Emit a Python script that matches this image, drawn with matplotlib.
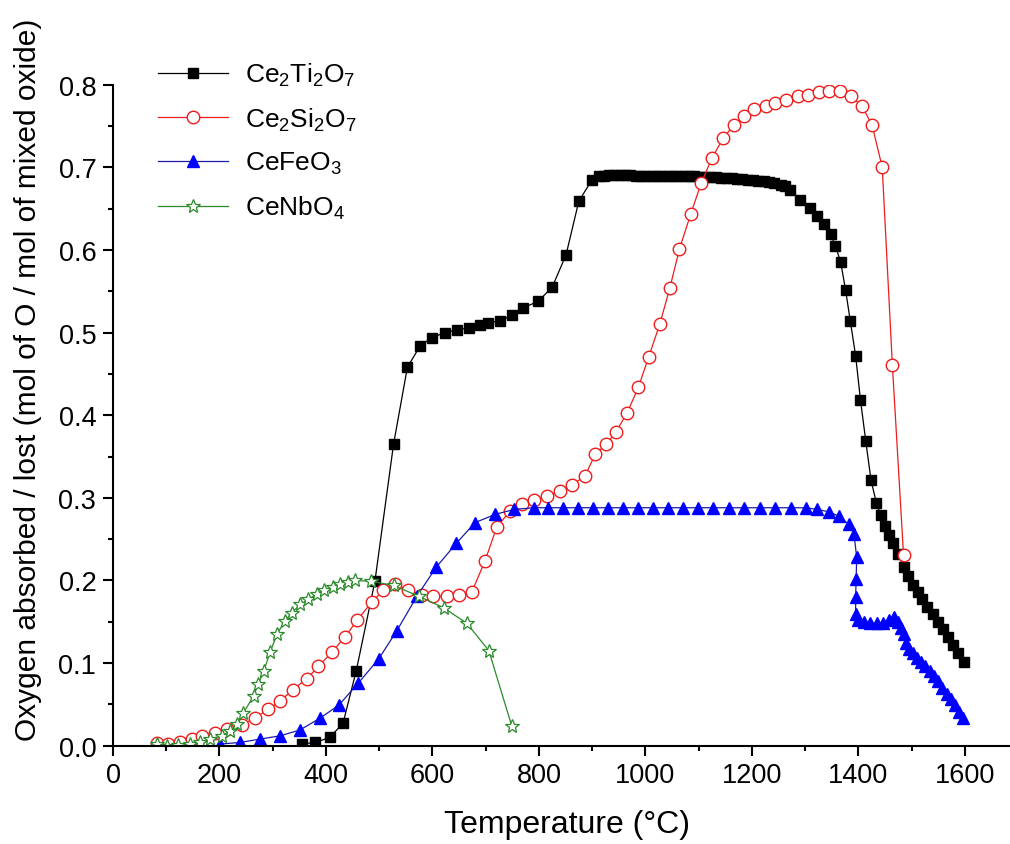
import numpy as np
import matplotlib
matplotlib.use('Agg')
import matplotlib.pyplot as plt
from matplotlib.ticker import MultipleLocator

plt.rcParams['font.family'] = ['Liberation Sans', 'DejaVu Sans']
plt.rcParams['mathtext.fontset'] = 'custom'
plt.rcParams['mathtext.rm'] = 'Liberation Sans'

# Ce2Ti2O7
ti_T = [355, 380, 407, 432, 457, 492, 527, 553, 577, 599, 624, 646, 668, 690, 705,
        727, 749, 771, 799, 825, 851, 875, 900, 912, 922, 932, 942, 952, 962, 972,
        982, 992, 1002, 1012, 1022, 1032, 1042, 1052, 1062, 1072, 1082, 1092, 1102,
        1112, 1122, 1132, 1142, 1152, 1162, 1172, 1182, 1192, 1202, 1212, 1222, 1232,
        1242, 1254, 1263, 1272, 1291, 1310, 1323, 1335, 1348, 1357, 1367, 1376, 1385,
        1395, 1404, 1414, 1424, 1434, 1442, 1450, 1458, 1466, 1475, 1485, 1494, 1503,
        1512, 1520, 1530, 1540, 1550, 1559, 1568, 1578, 1588, 1598]
ti_v = [0.002, 0.004, 0.010, 0.027, 0.091, 0.199, 0.365, 0.458, 0.484, 0.494, 0.500,
        0.503, 0.506, 0.509, 0.512, 0.514, 0.521, 0.530, 0.538, 0.555, 0.594, 0.659,
        0.685, 0.689, 0.690, 0.691, 0.691, 0.691, 0.691, 0.691, 0.690, 0.690, 0.690,
        0.690, 0.690, 0.690, 0.690, 0.689, 0.689, 0.689, 0.689, 0.689, 0.688, 0.688,
        0.688, 0.688, 0.687, 0.687, 0.687, 0.686, 0.686, 0.685, 0.685, 0.684, 0.683,
        0.682, 0.681, 0.679, 0.677, 0.673, 0.661, 0.651, 0.641, 0.631, 0.619, 0.605,
        0.585, 0.552, 0.514, 0.472, 0.419, 0.369, 0.321, 0.294, 0.279, 0.266, 0.255,
        0.245, 0.232, 0.216, 0.205, 0.195, 0.186, 0.178, 0.168, 0.159, 0.150, 0.141,
        0.132, 0.122, 0.112, 0.101]

# Ce2Si2O7
si_T = [82, 104, 126, 148, 167, 192, 214, 242, 267, 292, 314, 338, 364, 386, 411,
        436, 459, 486, 508, 530, 555, 580, 602, 627, 649, 674, 699, 721, 746, 768,
        790, 815, 840, 862, 887, 906, 927, 945, 966, 987, 1006, 1027, 1046, 1064,
        1085, 1105, 1125, 1146, 1166, 1185, 1205, 1226, 1244, 1265, 1286, 1305,
        1326, 1345, 1365, 1387, 1407, 1426, 1445, 1464, 1485]
si_v = [0.003, 0.002, 0.004, 0.008, 0.012, 0.015, 0.020, 0.025, 0.034, 0.044, 0.054,
        0.068, 0.081, 0.096, 0.113, 0.132, 0.152, 0.174, 0.188, 0.196, 0.188, 0.183,
        0.181, 0.181, 0.182, 0.186, 0.224, 0.265, 0.284, 0.292, 0.297, 0.302, 0.308,
        0.315, 0.327, 0.353, 0.365, 0.380, 0.403, 0.434, 0.470, 0.510, 0.554, 0.601,
        0.643, 0.681, 0.711, 0.735, 0.751, 0.762, 0.770, 0.774, 0.778, 0.782, 0.786,
        0.788, 0.791, 0.792, 0.792, 0.786, 0.774, 0.751, 0.700, 0.461, 0.231]

# CeFeO3
fe_T = [201, 239, 276, 314, 351, 388, 424, 461, 499, 533, 571, 607, 645, 680, 718,
        754, 790, 818, 846, 874, 902, 930, 958, 986, 1014, 1042, 1070, 1098, 1128,
        1157, 1185, 1216, 1244, 1273, 1301, 1323, 1345, 1363, 1382, 1392, 1397, 1396,
        1395, 1395, 1400, 1410, 1422, 1435, 1447, 1458, 1467, 1474, 1480, 1486, 1490,
        1495, 1502, 1510, 1518, 1526, 1534, 1542, 1550, 1558, 1566, 1574, 1582, 1590,
        1597]
fe_v = [0.002, 0.004, 0.008, 0.012, 0.019, 0.033, 0.049, 0.076, 0.105, 0.139, 0.181,
        0.216, 0.245, 0.270, 0.280, 0.286, 0.288, 0.288, 0.288, 0.288, 0.288, 0.288,
        0.288, 0.288, 0.288, 0.288, 0.288, 0.288, 0.288, 0.288, 0.288, 0.288, 0.288,
        0.288, 0.288, 0.286, 0.283, 0.278, 0.268, 0.256, 0.228, 0.202, 0.180, 0.160,
        0.152, 0.150, 0.149, 0.148, 0.149, 0.152, 0.156, 0.150, 0.143, 0.135, 0.124,
        0.117, 0.112, 0.106, 0.101, 0.096, 0.090, 0.084, 0.078, 0.070, 0.063, 0.056,
        0.049, 0.041, 0.034]

# CeNbO4
nb_T = [82, 101, 123, 145, 164, 182, 204, 220, 233, 245, 264, 273, 283, 295, 308,
        323, 336, 352, 367, 383, 397, 413, 427, 442, 455, 485, 527, 574, 621, 665,
        706, 749]
nb_v = [0.002, 0.000, 0.001, 0.002, 0.004, 0.008, 0.012, 0.018, 0.026, 0.040, 0.060,
        0.075, 0.090, 0.113, 0.135, 0.151, 0.161, 0.171, 0.177, 0.184, 0.188, 0.192,
        0.196, 0.198, 0.200, 0.199, 0.194, 0.181, 0.167, 0.148, 0.115, 0.024]

fig = plt.figure(figsize=(10.10, 8.45), dpi=100)
ax = fig.add_axes([0.1119, 0.1163, 0.8881, 0.7823])

ax.plot(ti_T, ti_v, color='black', lw=0.9, marker='s', ms=7.5,
        mfc='black', mec='black', label=r'$\mathregular{Ce_2Ti_2O_7}$')
ax.plot(si_T, si_v, color='#ee1c1c', lw=0.9, marker='o', ms=9,
        mfc='white', mec='#ee1c1c', mew=1.0, label=r'$\mathregular{Ce_2Si_2O_7}$')
ax.plot(fe_T, fe_v, color='#1a1aa8', lw=0.9, marker='^', ms=9,
        mfc='#0000ff', mec='#0000ff', label=r'$\mathregular{CeFeO_3}$')
ax.plot(nb_T, nb_v, color='#2a8a2a', lw=0.9, marker='*', ms=10,
        mfc='white', mec='#2a8a2a', mew=0.9, label=r'$\mathregular{CeNbO_4}$')

ax.set_xlim(0, 1685)
ax.set_ylim(0, 0.8)
ax.xaxis.set_major_locator(MultipleLocator(200))
ax.xaxis.set_minor_locator(MultipleLocator(100))
ax.yaxis.set_major_locator(MultipleLocator(0.1))
ax.yaxis.set_minor_locator(MultipleLocator(0.05))
ax.yaxis.set_major_formatter(plt.FuncFormatter(lambda v, p: f'{v:.1f}'))

for side in ['top', 'right']:
    ax.spines[side].set_visible(False)
for side in ['left', 'bottom']:
    ax.spines[side].set_linewidth(1.5)

ax.tick_params(which='major', direction='out', length=7, width=1.5,
               labelsize=19.5, pad=5)
ax.tick_params(which='minor', direction='out', length=3.5, width=1.5)

ax.set_xlabel('Temperature (°C)', fontsize=23)
ax.xaxis.set_label_coords(0.5 * (441 + 693) / 1010 / 0.8881 - 0.1119 / 0.8881, -0.096)
ax.set_ylabel('Oxygen absorbed / lost (mol of O / mol of mixed oxide)',
              fontsize=21.5)
ax.yaxis.set_label_coords(-0.079, 0.555)

ax.legend(loc='upper left', bbox_to_anchor=(158 / 1010, 1 - 62 / 845),
          bbox_transform=fig.transFigure, frameon=False, fontsize=19,
          handlelength=2.65, handletextpad=0.65, borderpad=0, borderaxespad=0,
          labelspacing=0.66)

fig.savefig('out.png', dpi=100)
